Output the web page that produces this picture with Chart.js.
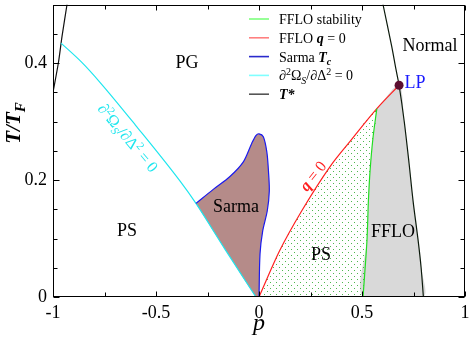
<!DOCTYPE html>
<html><head><meta charset="utf-8">
<script src="https://cdn.jsdelivr.net/npm/chart.js@4.4.0/dist/chart.umd.min.js"></script>
<style>html,body{margin:0;padding:0;background:#fff;}#wrap{width:471px;height:338px;position:relative;}</style>
</head><body><div id="wrap"><canvas id="c"></canvas></div>
<script>
// ---------------- data ----------------
const xTicks = [-1, -0.5, 0, 0.5, 1];
const yTicks = [0, 0.2, 0.4];
const xMinorTicks = [-0.75, -0.25, 0.25, 0.75];
const yMinorTicks = [0.05, 0.1, 0.15, 0.25, 0.3, 0.35, 0.45];

// T* (black)
const tStarLeftP = [-0.932, -0.956, -0.974, -1.0];
const tStarLeftT = [0.5, 0.446, 0.4, 0.35];
const tStarRightP = [0.602, 0.644, 0.665, 0.68, 0.705, 0.728, 0.748, 0.772, 0.787, 0.798];
const tStarRightT = [0.5, 0.429, 0.389, 0.362, 0.30, 0.23, 0.164, 0.098, 0.05, 0];
// d2Omega/dDelta2 = 0 (cyan)
const spinodalP = [-0.961, -0.860, -0.772, -0.60, -0.383, -0.306, -0.164, -0.015];
const spinodalT = [0.434, 0.401, 0.367, 0.294, 0.198, 0.160, 0.081, 0];
// Sarma Tc (blue)
const sarmaP = [-0.306, -0.222, -0.141, -0.076, -0.036, -0.015, 0.0, 0.021, 0.038, 0.046, 0.050, 0.040, 0.018, 0.005, 0.0];
const sarmaT = [0.160, 0.184, 0.206, 0.231, 0.262, 0.276, 0.279, 0.274, 0.248, 0.215, 0.181, 0.147, 0.113, 0.074, 0];
// FFLO q = 0 (red)
const ffloQ0P = [0, 0.10, 0.207, 0.345, 0.442, 0.572, 0.68];
const ffloQ0T = [0, 0.079, 0.147, 0.223, 0.266, 0.322, 0.362];
// FFLO stability (green)
const ffloStabP = [0.505, 0.524, 0.531, 0.539, 0.553, 0.572];
const ffloStabT = [0, 0.096, 0.164, 0.215, 0.271, 0.322];
// Lifshitz point
const lpP = [0.68];
const lpT = [0.362];

const regionNames = ['PG', 'PS', 'Sarma', 'PS', 'FFLO', 'Normal'];
const lpName = 'LP';

// ---------------- helpers ----------------
const pts = (P, T) => P.map((p, i) => ({x: p, y: T[i]}));
const SERIF = '"Liberation Serif","Times New Roman",serif';

const sarmaRegion = pts(sarmaP, sarmaT).concat(
  pts(spinodalP.slice(5).reverse(), spinodalT.slice(5).reverse()));
const psRegion = pts(ffloQ0P.slice(0, 6), ffloQ0T.slice(0, 6)).concat(
  pts(ffloStabP.slice(0, 5).reverse(), ffloStabT.slice(0, 5).reverse()));
const ffloRegion = pts(ffloQ0P.slice(5), ffloQ0T.slice(5))
  .concat(pts(tStarRightP.slice(4), tStarRightT.slice(4)))
  .concat(pts(ffloStabP.slice(0, 5), ffloStabT.slice(0, 5)));

function dotPattern() {
  const c = document.createElement('canvas');
  c.width = 6; c.height = 6;
  const g = c.getContext('2d');
  g.fillStyle = 'rgba(20,160,20,0.75)';
  g.fillRect(0, 0, 1, 1);
  g.fillRect(3, 3, 1, 1);
  return document.getElementById('c').getContext('2d').createPattern(c, 'repeat');
}

function fontOf(part, size) {
  return (part.i ? 'italic ' : '') + (part.b ? 'bold ' : '') + size + 'px ' + SERIF;
}
function partSize(part, size) { return (part.sub || part.sup) ? Math.round(size * 0.7) : size; }
function richWidth(ctx, parts, size) {
  let w = 0;
  for (const p of parts) { ctx.font = fontOf(p, partSize(p, size)); w += ctx.measureText(p.t).width; }
  return w;
}
function drawRich(ctx, parts, x, y, size, color) {
  ctx.fillStyle = color;
  ctx.textBaseline = 'alphabetic';
  ctx.textAlign = 'left';
  for (const p of parts) {
    const s = partSize(p, size);
    ctx.font = fontOf(p, s);
    let dy = 0;
    if (p.sub) dy = size * 0.25;
    if (p.sup) dy = -size * 0.38;
    ctx.fillText(p.t, x, y + dy);
    x += ctx.measureText(p.t).width;
  }
}

// annotation layout (positions in data coordinates, styles)
const labelLayout = [
  {p: -0.350, T: 0.400}, {p: -0.641, T: 0.112}, {p: -0.112, T: 0.154},
  {p: 0.301, T: 0.071}, {p: 0.650, T: 0.110}, {p: 0.830, T: 0.429}
];

const legendItems = [
  {color: '#7dff7d', parts: [{t: 'FFLO stability'}]},
  {color: '#ff8080', parts: [{t: 'FFLO '}, {t: 'q', b: 1, i: 1}, {t: ' = 0'}]},
  {color: '#2a2acc', parts: [{t: 'Sarma '}, {t: 'T', b: 1, i: 1}, {t: 'c', b: 1, i: 1, sub: 1}]},
  {color: '#80ffff', parts: [{t: '\u2202'}, {t: '2', sup: 1}, {t: '\u03A9'}, {t: 'S', i: 1, sub: 1}, {t: '/\u2202\u0394'}, {t: '2', sup: 1}, {t: ' = 0'}]},
  {color: '#555555', parts: [{t: 'T', b: 1, i: 1}, {t: '*', b: 1, i: 1}]}
];

const decor = {
  id: 'decor',
  afterDraw(chart) {
    const {ctx, chartArea: a, scales: {x, y}} = chart;
    ctx.save();
    // frame
    ctx.strokeStyle = '#000'; ctx.lineWidth = 1;
    const L = Math.round(a.left) + 0.5, R = Math.round(a.right) - 0.5;
    const Tp = Math.round(a.top) + 0.5, B = Math.round(a.bottom) - 0.5;
    ctx.strokeRect(L, Tp, R - L, B - Tp);
    // ticks inward
    ctx.beginPath();
    const xt = (vals, len) => vals.forEach(v => {
      const px = Math.round(x.getPixelForValue(v)) + 0.5;
      ctx.moveTo(px, B); ctx.lineTo(px, B - len);
      ctx.moveTo(px, Tp); ctx.lineTo(px, Tp + len);
    });
    const yt = (vals, len) => vals.forEach(v => {
      const py = Math.round(y.getPixelForValue(v)) + 0.5;
      ctx.moveTo(L, py); ctx.lineTo(L + len, py);
      ctx.moveTo(R, py); ctx.lineTo(R - len, py);
    });
    xt(xTicks, 5); xt(xMinorTicks, 4); yt(yTicks, 6); yt(yMinorTicks, 4);
    ctx.stroke();

    // region labels
    ctx.fillStyle = '#000';
    ctx.font = '18px ' + SERIF;
    ctx.textAlign = 'center'; ctx.textBaseline = 'middle';
    regionNames.forEach((n, i) => {
      const l = labelLayout[i];
      ctx.fillText(n, x.getPixelForValue(l.p), y.getPixelForValue(l.T));
    });
    ctx.fillStyle = '#1a1aff';
    ctx.fillText(lpName, x.getPixelForValue(0.757), y.getPixelForValue(0.366));

    // rotated curve labels
    const rot = (parts, p, T, ang, size, color) => {
      const w = richWidth(ctx, parts, size);
      ctx.save();
      ctx.translate(x.getPixelForValue(p), y.getPixelForValue(T));
      ctx.rotate(ang * Math.PI / 180);
      drawRich(ctx, parts, -w / 2, size * 0.33, size, color);
      ctx.restore();
    };
    rot([{t: 'q', b: 1, i: 1}, {t: ' = 0'}], 0.262, 0.207, -52, 16, '#ff2020');
    rot([{t: '\u2202'}, {t: '2', sup: 1}, {t: '\u03A9'}, {t: 'S', i: 1, sub: 1}, {t: '/\u2202\u0394'}, {t: '2', sup: 1}, {t: ' = 0'}],
        -0.636, 0.272, 50, 16, '#1fe6ee');

    // legend
    legendItems.forEach((it, i) => {
      const ly = 19 + i * 18.8;
      ctx.strokeStyle = it.color; ctx.lineWidth = 1.6;
      ctx.beginPath(); ctx.moveTo(249, ly); ctx.lineTo(269, ly); ctx.stroke();
      drawRich(ctx, it.parts, 279, ly + 5, 14, '#000');
    });

    // axis titles
    ctx.save();
    ctx.translate(20, 123);
    ctx.rotate(-Math.PI / 2);
    const tp = [{t: 'T/T', b: 1, i: 1}, {t: 'F', b: 1, i: 1, sub: 1}];
    const tw = richWidth(ctx, tp, 21);
    drawRich(ctx, tp, -tw / 2, 0, 21, '#000');
    ctx.restore();
    ctx.fillStyle = '#000';
    ctx.font = 'italic 24px ' + SERIF;
    ctx.textAlign = 'center'; ctx.textBaseline = 'alphabetic';
    ctx.fillText('p', x.getPixelForValue(0), 330);
    ctx.restore();
  }
};

const lineDs = (P, T, color, extra) => Object.assign({
  data: pts(P, T), showLine: true, borderColor: color, borderWidth: 1.2,
  pointRadius: 0, tension: 0.3, fill: false, order: 1
}, extra || {});
const regionDs = (data, bg) => ({
  data, showLine: true, borderColor: 'rgba(0,0,0,0)', borderWidth: 0.01,
  pointRadius: 0, tension: 0.3, fill: 'shape', backgroundColor: bg, order: 10
});

new Chart(document.getElementById('c'), {
  type: 'scatter',
  data: {
    datasets: [
      regionDs(sarmaRegion, '#b58b89'),
      regionDs(psRegion, dotPattern()),
      regionDs(ffloRegion, '#d9d9d9'),
      lineDs(ffloStabP, ffloStabT, '#22dd22'),
      lineDs(ffloQ0P, ffloQ0T, '#ff2020', {cubicInterpolationMode: 'monotone'}),
      lineDs(sarmaP, sarmaT, '#1a1aee'),
      lineDs(spinodalP, spinodalT, '#1fe6ee', {cubicInterpolationMode: 'monotone'}),
      lineDs(tStarLeftP, tStarLeftT, '#111111'),
      lineDs(tStarRightP, tStarRightT, '#0c1a0c'),
      {data: pts(lpP, lpT), pointRadius: 4.5, pointBackgroundColor: '#5c0f30',
       pointBorderColor: '#5c0f30', pointBorderWidth: 0, showLine: false, order: 0}
    ]
  },
  options: {
    responsive: true, maintainAspectRatio: false, animation: false,
    layout: {padding: {top: 2, right: 6, left: 0, bottom: 0}},
    plugins: {legend: {display: false}, tooltip: {enabled: false}},
    scales: {
      x: {
        type: 'linear', min: -1, max: 1,
        afterBuildTicks: s => { s.ticks = xTicks.map(v => ({value: v})); },
        afterFit: s => { s.height = 41; s.paddingLeft = 0; s.paddingRight = 0; s.paddingTop = 0; s.paddingBottom = 0; },
        grid: {display: false, drawTicks: false},
        border: {display: false},
        ticks: {font: {family: SERIF, size: 18}, color: '#000', padding: 5, maxRotation: 0,
                callback: v => String(v)}
      },
      y: {
        type: 'linear', min: 0, max: 0.5,
        afterBuildTicks: s => { s.ticks = yTicks.map(v => ({value: v})); },
        afterFit: s => { s.width = 53; s.paddingTop = 0; s.paddingBottom = 0; s.paddingLeft = 0; s.paddingRight = 0; },
        grid: {display: false, drawTicks: false},
        border: {display: false},
        ticks: {font: {family: SERIF, size: 18}, color: '#000', padding: 6,
                callback: v => String(v)}
      }
    }
  },
  plugins: [decor]
});
</script>
</body></html>
